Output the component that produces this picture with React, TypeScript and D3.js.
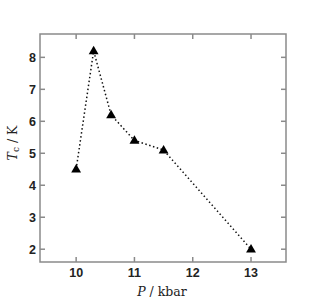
import React, { useEffect, useRef } from "react";
import * as d3 from "d3";

const pressure = [10, 10.3, 10.6, 11, 11.5, 13];
const tc = [4.5, 8.2, 6.2, 5.4, 5.1, 2.0];
const xTicks = [10, 11, 12, 13];
const yTicks = [2, 3, 4, 5, 6, 7, 8];

const App = () => {
  const svgRef = useRef<SVGSVGElement>(null);

  useEffect(() => {
    const width = 311;
    const height = 303;
    const margin = { top: 34, right: 25, bottom: 41, left: 40 };
    const w = width - margin.left - margin.right;
    const h = height - margin.top - margin.bottom;

    const svg = d3.select(svgRef.current);
    svg.selectAll("*").remove();

    const g = svg
      .append("g")
      .attr("transform", `translate(${margin.left},${margin.top})`);

    const x = d3.scaleLinear().domain([9.38, 13.6]).range([0, w]);
    const y = d3.scaleLinear().domain([1.6, 8.73]).range([h, 0]);

    const frameColor = "#8a8a8a";
    const tickLen = 5;

    // ticks (all inward)
    const tickStyle = (sel: any) =>
      sel.attr("stroke", frameColor).attr("stroke-width", 1.5);

    xTicks.forEach((t) => {
      tickStyle(
        g.append("line")
          .attr("x1", x(t)).attr("x2", x(t))
          .attr("y1", h).attr("y2", h - tickLen)
      );
      tickStyle(
        g.append("line")
          .attr("x1", x(t)).attr("x2", x(t))
          .attr("y1", 0).attr("y2", tickLen)
      );
      g.append("text")
        .attr("x", x(t))
        .attr("y", h + 15)
        .attr("text-anchor", "middle")
        .attr("font-family", "Liberation Sans, Arial, sans-serif")
        .attr("font-weight", "bold")
        .attr("font-size", 12.5)
        .attr("fill", "#222")
        .text(t);
    });

    yTicks.forEach((t) => {
      tickStyle(
        g.append("line")
          .attr("x1", 0).attr("x2", tickLen)
          .attr("y1", y(t)).attr("y2", y(t))
      );
      tickStyle(
        g.append("line")
          .attr("x1", w).attr("x2", w - tickLen)
          .attr("y1", y(t)).attr("y2", y(t))
      );
      g.append("text")
        .attr("x", -4)
        .attr("y", y(t))
        .attr("dy", "0.36em")
        .attr("text-anchor", "end")
        .attr("font-family", "Liberation Sans, Arial, sans-serif")
        .attr("font-weight", "bold")
        .attr("font-size", 12.5)
        .attr("fill", "#222")
        .text(t);
    });

    // frame
    g.append("rect")
      .attr("x", 0)
      .attr("y", 0)
      .attr("width", w)
      .attr("height", h)
      .attr("fill", "none")
      .attr("stroke", frameColor)
      .attr("stroke-width", 1.5);

    // dotted line
    const line = d3
      .line<number>()
      .x((d, i) => x(pressure[i]))
      .y((d) => y(d));

    g.append("path")
      .datum(tc)
      .attr("d", line)
      .attr("fill", "none")
      .attr("stroke", "#111")
      .attr("stroke-width", 1.5)
      .attr("stroke-dasharray", "1.5,2.5");

    // triangle markers
    const tri = d3.symbol().type(d3.symbolTriangle).size(42);
    g.selectAll(".pt")
      .data(tc)
      .join("path")
      .attr("class", "pt")
      .attr("d", tri)
      .attr("transform", (d, i) => `translate(${x(pressure[i])},${y(d) + 0.5})`)
      .attr("fill", "#000");

    // x-axis label
    const xl = svg
      .append("text")
      .attr("x", 162)
      .attr("y", 296)
      .attr("text-anchor", "middle")
      .attr("font-family", "DejaVu Serif, Liberation Serif, serif")
      .attr("font-size", 12.5)
      .attr("fill", "#222");
    xl.append("tspan").attr("font-style", "italic").text("P");
    xl.append("tspan").text(" / kbar");

    // y-axis label
    const yl = svg
      .append("text")
      .attr("transform", `translate(17,143) rotate(-90)`)
      .attr("text-anchor", "middle")
      .attr("font-family", "DejaVu Serif, Liberation Serif, serif")
      .attr("font-size", 12.5)
      .attr("fill", "#222");
    yl.append("tspan").attr("font-style", "italic").text("T");
    yl.append("tspan").attr("font-size", 9).attr("dy", 2).text("c");
    yl.append("tspan").attr("dy", -2).text(" / K");
  }, []);

  return (
    <svg
      ref={svgRef}
      width={311}
      height={303}
      style={{ position: "absolute", left: 0, top: 0, background: "#fff" }}
    ></svg>
  );
};

export default App;
